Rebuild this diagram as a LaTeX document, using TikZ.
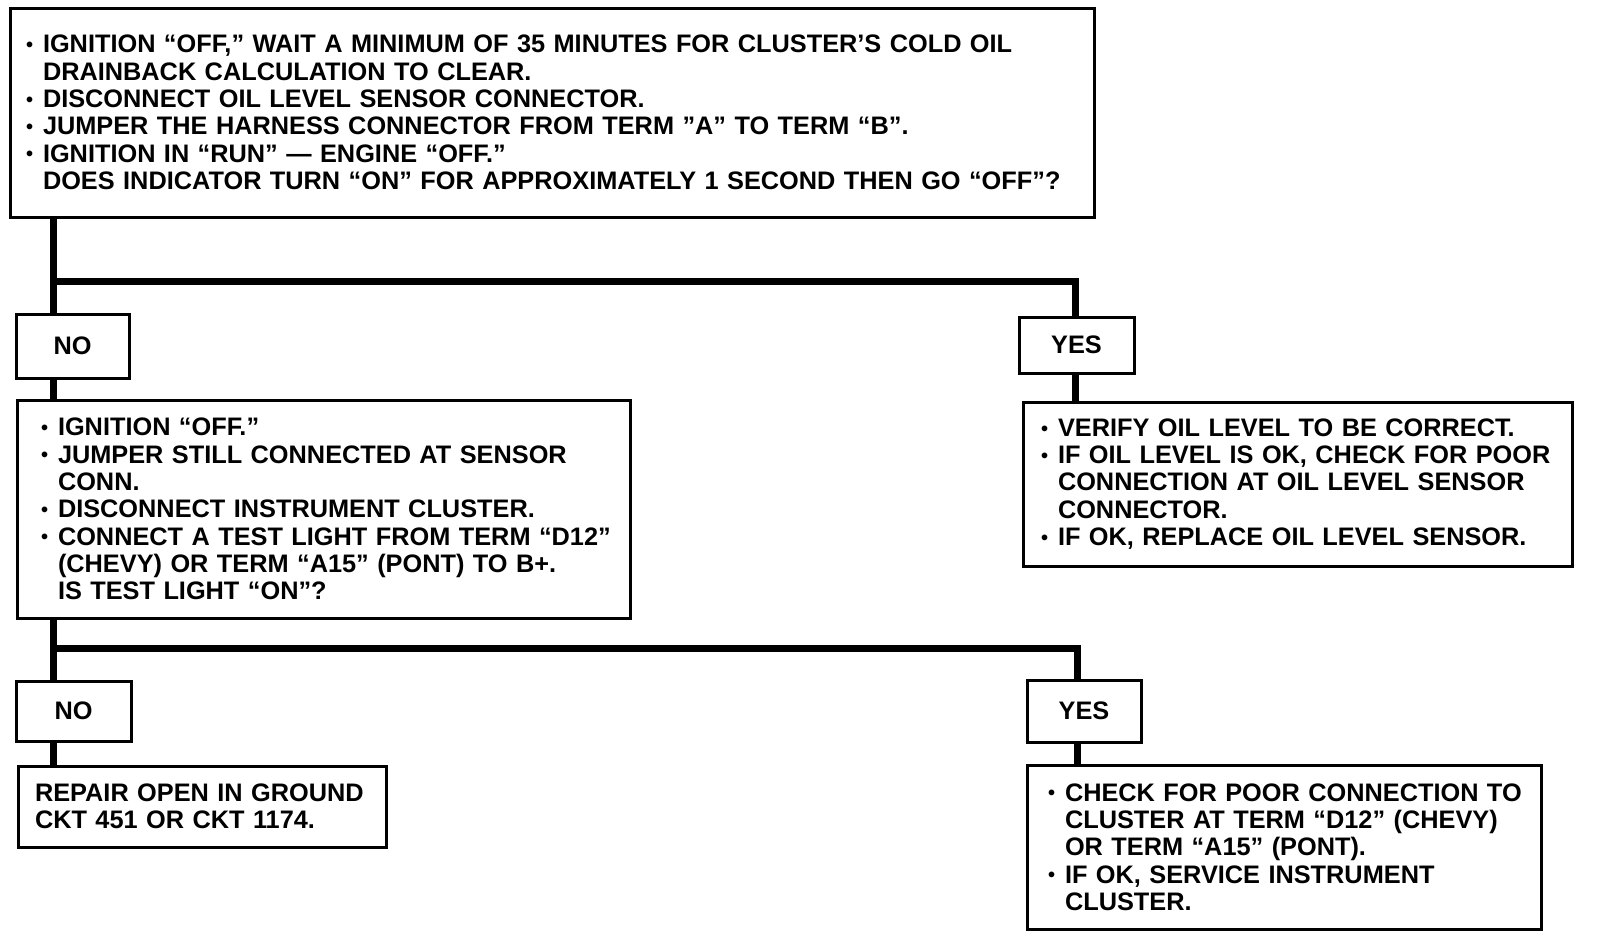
\documentclass[tikz,border=0pt]{standalone}
\usepackage{fontspec}
\setmainfont{Liberation Sans}
\newcommand{\bul}{\makebox[8.5pt][l]{\raisebox{0.6pt}{\fontsize{10}{10}\selectfont •}}}
\newcommand{\ind}{\hspace*{8.5pt}}
\hfuzz=20pt
\begin{document}
\begin{tikzpicture}[x=0.5pt,y=-0.5pt,
  txt/.style={font=\fontsize{12.66}{13.65}\selectfont\bfseries},
  boxs/.style={draw, line width=1.5pt, inner ysep=0pt, txt},
  textbox/.style={boxs, align=left},
  answer/.style={boxs, align=center, inner xsep=0pt},
  conn/.style={line width=3.5pt, line join=miter}]
\useasboundingbox (0,0) rectangle (1600,938);

\node[textbox, minimum width=542pt, minimum height=104.5pt, inner xsep=8pt, text width=526pt] (top) at (552,112.5)
{\mbox{\bul IGNITION “OFF,” WAIT A MINIMUM OF 35 MINUTES FOR CLUSTER'S COLD OIL}\\
\ind DRAINBACK CALCULATION TO CLEAR.\\
\bul DISCONNECT OIL LEVEL SENSOR CONNECTOR.\\
\bul JUMPER THE HARNESS CONNECTOR FROM TERM "A" TO TERM “B”.\\
\bul IGNITION IN “RUN" — ENGINE “OFF."\\
\mbox{\ind DOES INDICATOR TURN “ON” FOR APPROXIMATELY 1 SECOND THEN GO “OFF”?}};

\node[answer, minimum width=56.5pt, minimum height=32pt] (no1) at (72.5,346) {NO};
\node[answer, minimum width=57.5pt, minimum height=28pt] (yes1) at (1076.5,345) {YES};

\node[textbox, minimum width=306.5pt, minimum height=109pt, inner xsep=12pt, text width=282.5pt] (noact) at (323.5,509)
{\bul IGNITION “OFF.”\\
\mbox{\bul JUMPER STILL CONNECTED AT SENSOR}\\
\ind CONN.\\
\bul DISCONNECT INSTRUMENT CLUSTER.\\
\mbox{\bul CONNECT A TEST LIGHT FROM TERM “D12”}\\
\mbox{\ind (CHEVY) OR TERM “A15" (PONT) TO B+.}\\
\ind IS TEST LIGHT “ON”?};

\node[textbox, minimum width=274.5pt, minimum height=82pt, inner xsep=9pt, text width=256.5pt] (yesact) at (1297.5,484)
{\bul VERIFY OIL LEVEL TO BE CORRECT.\\
\mbox{\bul IF OIL LEVEL IS OK, CHECK FOR POOR}\\
\mbox{\ind CONNECTION AT OIL LEVEL SENSOR}\\
\ind CONNECTOR.\\
\mbox{\bul IF OK, REPLACE OIL LEVEL SENSOR.}};

\node[answer, minimum width=57.5pt, minimum height=30pt] (no2) at (73.5,711) {NO};
\node[answer, minimum width=57pt, minimum height=31pt] (yes2) at (1084,711) {YES};

\node[textbox, minimum width=184pt, minimum height=40.5pt, inner xsep=8.5pt, text width=167pt] (repair) at (202,806.5)
{\mbox{REPAIR OPEN IN GROUND}\\
\mbox{CKT 451 OR CKT 1174.}};

\node[textbox, minimum width=257pt, minimum height=82pt, inner xsep=10.5pt, text width=236pt] (check) at (1284,847)
{\mbox{\bul CHECK FOR POOR CONNECTION TO}\\
\mbox{\ind CLUSTER AT TERM “D12" (CHEVY)}\\
\ind OR TERM “A15" (PONT).\\
\mbox{\bul IF OK, SERVICE INSTRUMENT}\\
\ind CLUSTER.};

\coordinate (Lx) at (53,0);
\coordinate (R1x) at (1075,0);
\coordinate (R2x) at (1077,0);
\coordinate (B1) at (0,281);
\coordinate (B2) at (0,648);

\draw[conn] (top.south -| Lx) -- (no1.north -| Lx);
\draw[conn] (Lx |- B1) -| (yes1.north -| R1x);
\draw[conn] (no1.south -| Lx) -- (noact.north -| Lx);
\draw[conn] (yes1.south -| R1x) -- (yesact.north -| R1x);

\draw[conn] (noact.south -| Lx) -- (no2.north -| Lx);
\draw[conn] (Lx |- B2) -| (yes2.north -| R2x);
\draw[conn] (no2.south -| Lx) -- (repair.north -| Lx);
\draw[conn] (yes2.south -| R2x) -- (check.north -| R2x);
\end{tikzpicture}
\end{document}
